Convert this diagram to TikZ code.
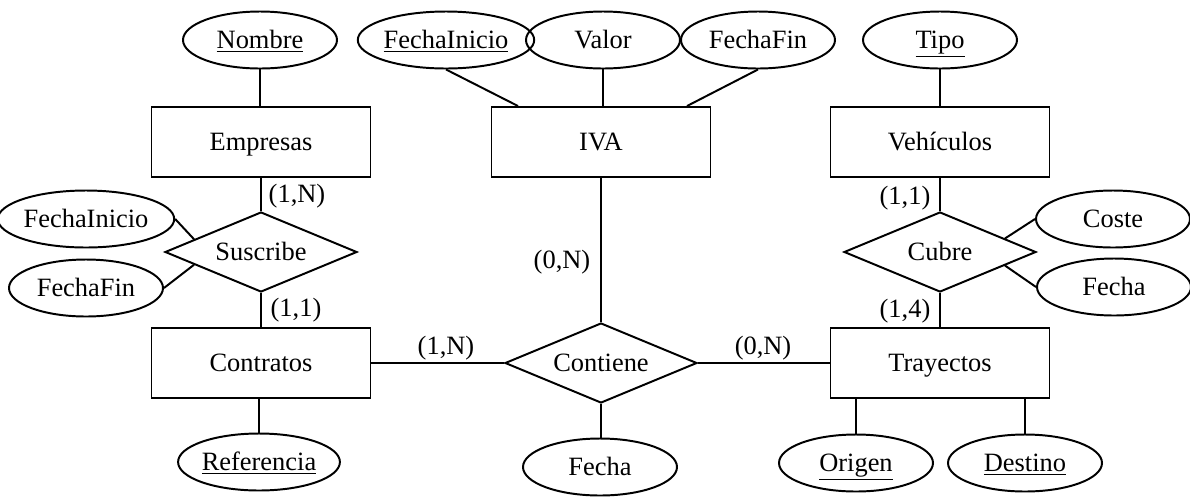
\documentclass[tikz,border=0pt]{standalone}
\usepackage{fontspec}
\setmainfont{Liberation Serif}
\usetikzlibrary{shapes, positioning, calc}

\begin{document}
\begin{tikzpicture}[
    entity/.style={rectangle, draw, line width=1.4pt, minimum width=5.475cm, minimum height=1.75cm, inner sep=0pt, text height=12.4pt, text depth=0pt, font=\fontsize{18.8}{22}\selectfont},
    relation/.style={diamond, draw, line width=1.4pt, aspect=2.4, minimum width=4.8cm, minimum height=2cm, inner sep=0pt, text height=12.4pt, text depth=0pt, font=\fontsize{18.8}{22}\selectfont},
    attrib/.style={ellipse, draw, line width=1.4pt, minimum width=3.85cm, minimum height=1.425cm, inner sep=0pt, text height=12.4pt, text depth=0pt, font=\fontsize{18.8}{22}\selectfont},
    card/.style={font=\fontsize{18.8}{22}\selectfont, inner sep=0pt},
    link/.style={line width=1.4pt}
]
    \useasboundingbox (0, 0) rectangle (29.75, -12.4);

    % Empresas side
    \node[attrib] (nom) at (6.5, -1.0) {\underline{Nombre}};
    \node[entity] (emp) at (6.525, -3.55) {Empresas};
    \node[relation] (sus) at (6.525, -6.3) {Suscribe};
    \node[attrib] (finisus) at (2.15, -5.475) {FechaInicio};
    \node[attrib] (ffinsus) at (2.15, -7.2) {FechaFin};
    \node[entity] (con) at (6.525, -9.075) {Contratos};
    \node[attrib] (ref) at (6.475, -11.55) {\underline{Referencia}};

    % IVA
    \node[attrib] (finiva) at (11.15, -1.0) {\underline{FechaInicio}};
    \node[attrib] (val) at (15.075, -1.0) {Valor};
    \node[attrib] (ffiniva) at (18.95, -1.0) {FechaFin};
    \node[entity] (iva) at (15.025, -3.55) {IVA};
    \node[relation] (cont) at (15.025, -9.075) {Contiene};
    \node[attrib] (fcont) at (15.0, -11.675) {Fecha};

    % Vehiculos side
    \node[attrib] (tip) at (23.5, -1.0) {\underline{Tipo}};
    \node[entity] (veh) at (23.5, -3.55) {Vehículos};
    \node[relation] (cub) at (23.5, -6.3) {Cubre};
    \node[attrib] (cos) at (27.825, -5.475) {Coste};
    \node[attrib] (fcub) at (27.85, -7.175) {Fecha};
    \node[entity] (tra) at (23.5, -9.075) {Trayectos};
    \node[attrib] (ori) at (21.4, -11.575) {\underline{Origen}};
    \node[attrib] (des) at (25.625, -11.575) {\underline{Destino}};

    % Cardinalities
    \node[card] (c1) at (7.425, -4.9) {(1,N)};
    \node[card] (c2) at (7.4, -7.75) {(1,1)};
    \node[card] (c3) at (14.05, -6.55) {(0,N)};
    \node[card] (c4) at (11.15, -8.7) {(1,N)};
    \node[card] (c5) at (19.075, -8.7) {(0,N)};
    \node[card] (c6) at (22.625, -4.95) {(1,1)};
    \node[card] (c7) at (22.625, -7.775) {(1,4)};

    % Lines
    \draw[link] (nom) -- (nom |- emp.north);
    \draw[link] (emp.south) -- (sus.north);
    \draw[link] (sus.south) -- (con.north);
    \draw[link] (finisus.east) -- ($(sus.west)!0.31!(sus.north)$);
    \draw[link] (ffinsus.east) -- ($(sus.west)!0.31!(sus.south)$);
    \draw[link] (ref.north) -- (ref.north |- con.south);

    \draw[link] (finiva.south) -- ($(iva.north)+(-2.075, 0)$);
    \draw[link] (val.south) -- (val.south |- iva.north);
    \draw[link] (ffiniva.south) -- ($(iva.north)+(2.15, 0)$);
    \draw[link] (iva.south) -- (cont.north);
    \draw[link] (con.east) -- (cont.west);
    \draw[link] (cont.east) -- (tra.west);
    \draw[link] (cont.south) -- (cont.south |- fcont.north);

    \draw[link] (tip.south) -- (veh.north);
    \draw[link] (veh.south) -- (cub.north);
    \draw[link] (cub.south) -- (tra.north);
    \draw[link] (cos.west) -- ($(cub.east)!0.33!(cub.north)$);
    \draw[link] (fcub.west) -- ($(cub.east)!0.33!(cub.south)$);
    \draw[link] (ori.north) -- (ori.north |- tra.south);
    \draw[link] (des.north) -- (des.north |- tra.south);

\end{tikzpicture}
\end{document}
